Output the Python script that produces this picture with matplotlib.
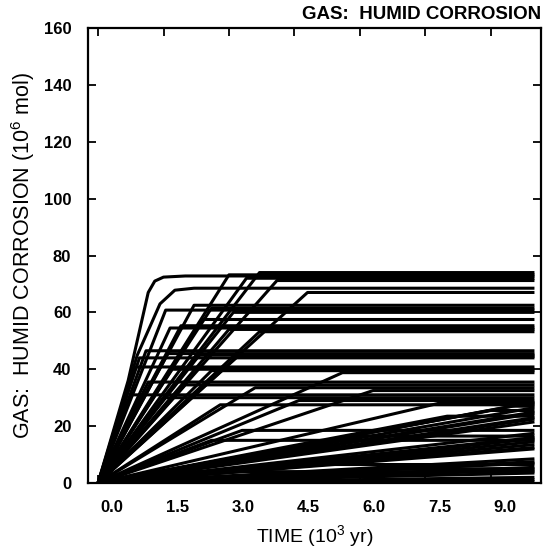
import matplotlib
matplotlib.use("Agg")
import matplotlib.pyplot as plt
import matplotlib.transforms as mtransforms

plt.rcParams["font.family"] = ["Liberation Sans", "DejaVu Sans"]
plt.rcParams["mathtext.fontset"] = "custom"
plt.rcParams["mathtext.rm"] = "Liberation Sans"

# each realization: gas amount reached (10^6 mol) and the time (10^3 yr) it is reached;
# after that the curve stays flat to the end of the run
plateau = [
    74.0, 73.2, 72.0, 71.2,
    67.0,
    62.5, 61.5, 60.8, 60.0,
    57.5, 55.3, 54.5, 54.0, 53.2,
    46.5, 45.5, 45.0, 44.5, 44.0,
    40.8, 40.0, 39.5, 38.8,
    35.5, 34.5, 33.5, 32.5,
    31.0, 30.0, 29.0, 28.0, 27.5,
    28.5, 27.0, 26.5, 25.5, 25.0, 24.5, 23.5, 23.0, 22.5, 21.5,
    18.5, 17.5, 16.5, 16.0, 15.5, 15.0, 14.5, 13.5, 12.5, 12.0,
    8.5, 7.5, 7.0, 6.5, 5.5, 5.0, 4.5, 4.0, 3.5,
    2.0, 1.2, 0.6,
]
knee_time = [
    3.7, 3.0, 3.4, 4.1,
    4.8,
    2.2, 2.6, 1.55, 3.1,
    2.4, 1.9, 1.65, 3.0, 3.7,
    1.1, 1.6, 2.3, 3.2, 0.95,
    0.85, 1.7, 2.6, 5.6,
    1.15, 2.0, 3.6, 6.3,
    0.75, 1.5, 4.6, 7.8, 2.8,
    10.0, 9.5, 10.0, 9.0, 10.0, 10.0, 8.0, 10.0, 10.0, 10.0,
    3.3, 10.0, 6.0, 10.0, 10.0, 2.6, 10.0, 10.0, 10.0, 10.0,
    10.0, 10.0, 10.0, 4.0, 10.0, 7.0, 10.0, 1.5, 10.0,
    10.0, 10.0, 3.0,
]
end_time = 10.0

# the two fastest realizations bend over gradually (time, amount)
rounded_t = [
    [0.0, 0.69, 1.15, 1.3, 1.5, 2.0, 10.0],
    [0.0, 0.9, 1.19, 1.42, 1.76, 2.2, 10.0],
]
rounded_v = [
    [0.0, 36.0, 67.0, 71.0, 72.4, 72.8, 72.8],
    [0.0, 45.0, 55.0, 63.0, 67.8, 68.5, 68.5],
]

x_ticks = [0.0, 1.5, 3.0, 4.5, 6.0, 7.5, 9.0]
x_tick_labels = ["0.0", "1.5", "3.0", "4.5", "6.0", "7.5", "9.0"]
y_ticks = [0, 20, 40, 60, 80, 100, 120, 140, 160]


def main():
    fig = plt.figure(figsize=(5.45, 5.53), dpi=100)
    ax = fig.add_axes([88 / 545, 1 - 483 / 553, (541 - 88) / 545, (483 - 28) / 553])

    for p, tk in zip(plateau, knee_time):
        ax.plot([0.0, tk, end_time], [0.0, p, p], color="black", lw=2.2,
                solid_joinstyle="round", solid_capstyle="butt")
    for ts, vs in zip(rounded_t, rounded_v):
        ax.plot(ts, vs, color="black", lw=2.2, solid_joinstyle="round",
                solid_capstyle="butt")

    ax.set_xlim(-0.23, 10.15)
    ax.set_ylim(0, 160)
    ax.set_xticks(x_ticks)
    ax.set_xticklabels(x_tick_labels)
    ax.set_yticks(y_ticks)

    ax.tick_params(direction="in", length=6, width=1.3, top=True, right=True,
                   labelsize=12, pad=12)
    for lbl in ax.get_xticklabels() + ax.get_yticklabels():
        lbl.set_fontweight("bold")
    # the printed labels sit a little right of their tick marks
    shift = mtransforms.ScaledTranslation(0.14, 0, fig.dpi_scale_trans)
    for lbl in ax.get_xticklabels():
        lbl.set_transform(lbl.get_transform() + shift)

    for s in ax.spines.values():
        s.set_linewidth(1.6)

    ax.set_xlabel("TIME (10$^{3}$ yr)", fontsize=14, labelpad=6)
    ax.set_ylabel("GAS:  HUMID CORROSION (10$^{6}$ mol)", fontsize=15.5, labelpad=5)
    ax.text(1.0, 1.012, "GAS:  HUMID CORROSION", transform=ax.transAxes,
            ha="right", va="bottom", fontsize=13.5, fontweight="bold")

    fig.savefig("out.png", dpi=100)


if __name__ == "__main__":
    main()
